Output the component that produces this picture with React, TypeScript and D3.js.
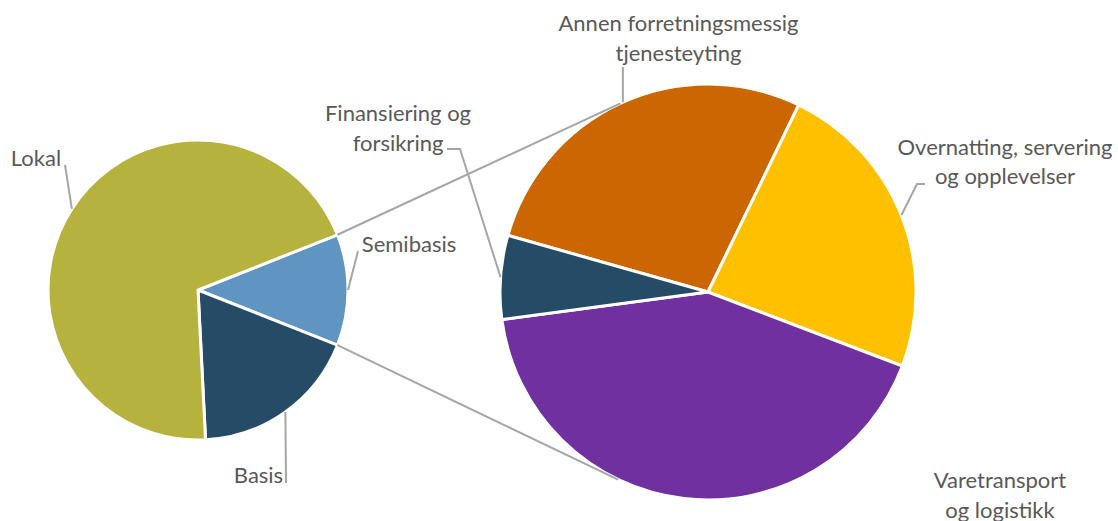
import React from "react";
import * as d3 from "d3";

// ---- data ----
const mainCategories = ["Semibasis", "Basis", "Lokal"];
const mainValues = [12, 18.2, 69.8];
const mainColors = ["#6195C1", "#264B67", "#B6B23E"];

const subCategories = [
  "Annen forretningsmessig tjenesteyting",
  "Overnatting, servering og opplevelser",
  "Varetransport og logistikk",
  "Finansiering og forsikring",
];
const subValues = [27.8, 23.6, 42.1, 6.5];
const subColors = ["#CC6600", "#FFC000", "#7030A0", "#264B67"];

const W = 1118;
const H = 521;
const FONT = "Lato, 'Open Sans', sans-serif";
const TEXT = "#595959";
const LINE = "#A6A6A6";

export default function App() {
  const c1 = { x: 198, y: 290 };
  const r1 = 150;
  const c2 = { x: 708, y: 292 };
  const r2 = 208;

  const deg = Math.PI / 180;
  const semiAngle = (mainValues[0] / d3.sum(mainValues)) * 2 * Math.PI;
  const pie1 = d3
    .pie<number>()
    .sort(null)
    .value((d) => d)
    .startAngle(Math.PI / 2 - semiAngle / 2)
    .endAngle(Math.PI / 2 - semiAngle / 2 + 2 * Math.PI);
  const arcs1 = pie1(mainValues);

  const pie2 = d3
    .pie<number>()
    .sort(null)
    .value((d) => d)
    .startAngle(-74.2 * deg)
    .endAngle(-74.2 * deg + 2 * Math.PI);
  const arcs2 = pie2(subValues);

  const arc1 = d3.arc<d3.PieArcDatum<number>>().innerRadius(0).outerRadius(r1);
  const arc2 = d3.arc<d3.PieArcDatum<number>>().innerRadius(0).outerRadius(r2);

  const onEdge = (c: { x: number; y: number }, r: number, a: number) => ({
    x: c.x + r * Math.sin(a),
    y: c.y - r * Math.cos(a),
  });
  const mid = (a: d3.PieArcDatum<number>) => (a.startAngle + a.endAngle) / 2;

  // connector lines: split slice edges -> tangent points of the second pie
  const semi = arcs1[0];
  const pTop = onEdge(c1, r1, semi.startAngle);
  const pBot = onEdge(c1, r1, semi.endAngle);
  const tangent = (p: { x: number; y: number }, upper: boolean) => {
    const dx = p.x - c2.x;
    const dy = p.y - c2.y;
    const d = Math.hypot(dx, dy);
    const th = Math.atan2(dy, dx);
    const al = Math.acos(r2 / d);
    const cands = [th + al, th - al].map((t) => ({
      x: c2.x + r2 * Math.cos(t),
      y: c2.y + r2 * Math.sin(t),
    }));
    cands.sort((a, b) => a.y - b.y);
    return upper ? cands[0] : cands[1];
  };
  const tTop = tangent(pTop, true);
  const tBot = tangent(pBot, false);

  // leader end points (slice mid-angle on the edge)
  const eLokal = onEdge(c1, r1, mid(arcs1[2]));
  const eBasis = onEdge(c1, r1, mid(arcs1[1]));
  const eSemi = onEdge(c1, r1, mid(arcs1[0]));
  const eAnnen = onEdge(c2, r2, mid(arcs2[0]));
  const eOver = onEdge(c2, r2, mid(arcs2[1]));
  const eFin = onEdge(c2, r2, mid(arcs2[3]));

  const fs = 22;
  const label = (lines: string[], x: number, y: number, key: string) => (
    <text
      key={key}
      x={x}
      y={y}
      textAnchor="middle"
      fontFamily={FONT}
      fontSize={fs}
      fill={TEXT}
    >
      {lines.map((l, i) => (
        <tspan key={i} x={x} y={y + i * 29.5}>
          {l}
        </tspan>
      ))}
    </text>
  );

  return (
    <svg
      width={W}
      height={H}
      style={{ position: "absolute", left: 0, top: 0, background: "#fff" }}
    >
      <g transform={`translate(${c1.x},${c1.y})`}>
        {arcs1.map((a, i) => (
          <path
            key={mainCategories[i]}
            d={arc1(a) || ""}
            fill={mainColors[i]}
            stroke="#fff"
            strokeWidth={3}
          />
        ))}
      </g>
      <g transform={`translate(${c2.x},${c2.y})`}>
        {arcs2.map((a, i) => (
          <path
            key={subCategories[i]}
            d={arc2(a) || ""}
            fill={subColors[i]}
            stroke="#fff"
            strokeWidth={3}
          />
        ))}
      </g>
      <g stroke={LINE} strokeWidth={2} fill="none">
        <line x1={pTop.x} y1={pTop.y} x2={tTop.x} y2={tTop.y} />
        <line x1={pBot.x} y1={pBot.y} x2={tBot.x} y2={tBot.y} />
        <polyline points={`65,165 ${eLokal.x},${eLokal.y}`} />
        <polyline points={`286,483 ${eBasis.x},${eBasis.y}`} />
        <polyline points={`358,251 ${eSemi.x},${eSemi.y}`} />
        <polyline points={`447,149 460,149 ${eFin.x},${eFin.y}`} />
        <polyline points={`${eAnnen.x},67 ${eAnnen.x},${eAnnen.y}`} />
        <polyline points={`925,184 917,184 ${eOver.x},${eOver.y}`} />
      </g>
      {label(["Lokal"], 36, 166, "lokal")}
      {label(["Semibasis"], 409, 252, "semi")}
      {label(["Basis"], 258.5, 483, "basis")}
      {label(["Finansiering og", "forsikring"], 398, 121, "fin")}
      {label(["Annen forretningsmessig", "tjenesteyting"], 678.5, 31, "annen")}
      {label(["Overnatting, servering", "og opplevelser"], 1005, 154.5, "over")}
      {label(["Varetransport", "og logistikk"], 1000, 488, "vare")}
    </svg>
  );
}
